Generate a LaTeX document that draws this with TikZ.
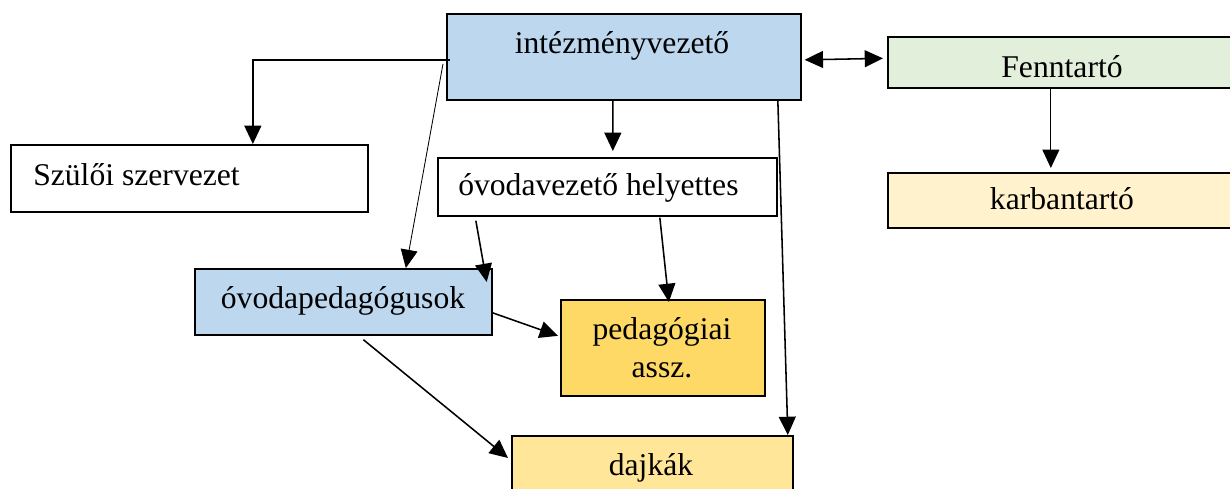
\documentclass[tikz,border=0pt]{standalone}
\usepackage{fontspec}
\setmainfont{Liberation Serif}
\usetikzlibrary{arrows.meta,calc}

\definecolor{kek}{HTML}{BDD7EE}
\definecolor{zold}{HTML}{E2EFDA}
\definecolor{halvanysarga}{HTML}{FFF2CC}
\definecolor{sarga}{HTML}{FFD966}
\definecolor{vilagossarga}{HTML}{FFE699}

\begin{document}
\begin{tikzpicture}[x=0.025cm, y=-0.025cm,
	font=\fontsize{22.5}{27}\selectfont,
	doboz/.style={draw, line width=1.2pt, inner sep=0pt, anchor=north west},
	szoveg/.style={inner sep=0pt, anchor=base},
	nyil/.style={-{Triangle[length=13pt,width=12pt]}, line width=1.1pt},
	kettosnyil/.style={{Triangle[length=13pt,width=12pt]}-{Triangle[length=13pt,width=12pt]}, line width=1.1pt}]
	
	\useasboundingbox (0,0) rectangle (1230,488);
	
	% Felso sor
	\node[doboz, fill=kek, minimum width=354*0.025cm, minimum height=86*0.025cm] (ivez) at (446,13) {};
	\node[doboz, fill=zold, minimum width=350*0.025cm, minimum height=51*0.025cm] (fenn) at (887,36) {};
	\node[doboz, fill=halvanysarga, minimum width=350*0.025cm, minimum height=55*0.025cm] (karb) at (887,172) {};
	
	% Kozepso sor
	\node[doboz, minimum width=357*0.025cm, minimum height=67*0.025cm] (szulo) at (10,144) {};
	\node[doboz, minimum width=339*0.025cm, minimum height=58*0.025cm] (ovh) at (437,157) {};
	\node[doboz, fill=kek, minimum width=297*0.025cm, minimum height=66*0.025cm] (opd) at (194,268) {};
	
	% Also sor
	\node[doboz, fill=sarga, minimum width=204*0.025cm, minimum height=96*0.025cm] (ped) at (560,299) {};
	\node[doboz, fill=vilagossarga, minimum width=281*0.025cm, minimum height=70*0.025cm] (dajk) at (511,435) {};
	
	% Feliratok
	\node[szoveg] (ivez-t) at (622,53) {intézményvezető};
	\node[szoveg] (fenn-t) at (1062,77) {Fenntartó};
	\node[szoveg] (karb-t) at (1062,209) {karbantartó};
	\node[szoveg, anchor=base west] (szulo-t) at (33,185) {Szülői szervezet};
	\node[szoveg, anchor=base west] (ovh-t) at (458,195) {óvodavezető helyettes};
	\node[szoveg] (opd-t) at (343,308) {óvodapedagógusok};
	\node[szoveg, align=center] (ped-t) at (662,377) {pedagógiai\\assz.};
	\node[szoveg] (dajk-t) at (651,475) {dajkák};
	
	% Nyilak
	\draw[nyil] ($(ivez.west)+(4,3)$) -| ($(szulo.north)+(63.5,0)$);
	\draw[nyil, line width=0.6pt] ($(ivez.west)+(-3,7)$) -- ($(opd.north)+(62.5,0)$);
	\draw[nyil] ($(ivez.south)+(-11,0)$) -- ($(ovh.north)+(5.5,-6)$);
	\draw[nyil] ($(ivez.south)+(154,0)$) -- ($(dajk.north)+(135.5,0)$);
	\draw[kettosnyil] ($(ivez.east)+(3,3)$) -- ($(fenn.west)+(-4,-4)$);
	\draw[nyil, line width=0.8pt] ($(fenn.south)+(-12,0)$) -- ($(karb.north)+(-12,-4)$);
	\draw[nyil] ($(ovh.south)+(-131.5,4)$) -- ($(opd.north east)+(-6,14)$);
	\draw[nyil] ($(ovh.south)+(52.5,1)$) -- ($(ped.north)+(6,3)$);
	\draw[nyil] ($(opd.east)+(0,11)$) -- ($(ped.west)+(-2,-12)$);
	\draw[nyil] ($(opd.south)+(20,4)$) -- ($(dajk.north west)+(-3,23)$);
	
\end{tikzpicture}
\end{document}
